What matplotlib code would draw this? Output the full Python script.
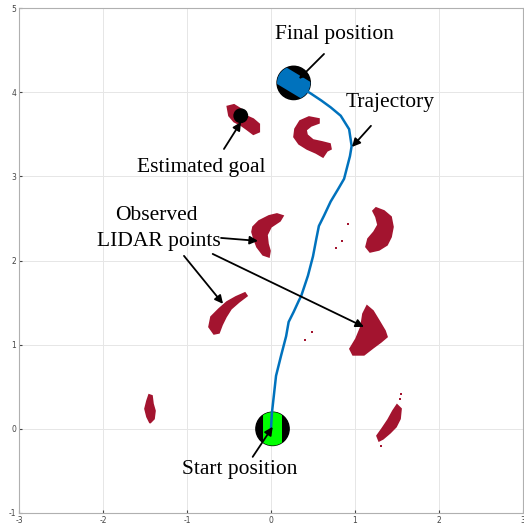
import matplotlib

matplotlib.use("Agg")
import matplotlib.pyplot as plt
import numpy as np
from matplotlib.patches import Circle, Polygon

plt.rcParams["axes.unicode_minus"] = False

# trajectory
traj_x = [0.0, 0.01, 0.06, 0.12, 0.18, 0.21, 0.27, 0.33, 0.36, 0.44, 0.50, 0.54,
          0.57, 0.63, 0.71, 0.80, 0.87, 0.94, 0.96, 0.93, 0.83, 0.71, 0.60, 0.48, 0.27]
traj_y = [0.0, 0.18, 0.63, 0.87, 1.10, 1.27, 1.39, 1.52, 1.58, 1.82, 2.05, 2.26,
          2.41, 2.53, 2.70, 2.85, 2.97, 3.24, 3.36, 3.56, 3.72, 3.82, 3.90, 3.98, 4.11]

# outlines of the observed LIDAR point clusters
cluster_goal = [(-0.52, 3.83), (-0.44, 3.85), (-0.36, 3.80), (-0.30, 3.72), (-0.21, 3.68),
                (-0.14, 3.62), (-0.14, 3.53), (-0.21, 3.50), (-0.29, 3.56), (-0.36, 3.61),
                (-0.44, 3.65), (-0.50, 3.72)]
cluster_c = [(0.571, 3.682), (0.452, 3.705), (0.345, 3.658), (0.286, 3.563), (0.274, 3.468),
             (0.333, 3.385), (0.429, 3.325), (0.536, 3.278), (0.619, 3.230), (0.667, 3.302),
             (0.714, 3.325), (0.702, 3.385), (0.607, 3.409), (0.500, 3.432), (0.429, 3.492),
             (0.417, 3.551), (0.476, 3.599), (0.571, 3.634)]
cluster_mid = [(-0.214, 2.399), (-0.143, 2.470), (-0.024, 2.530), (0.071, 2.553), (0.143, 2.530),
               (0.107, 2.470), (0.0, 2.399), (-0.048, 2.304), (-0.036, 2.197), (-0.012, 2.114),
               (-0.024, 2.043), (-0.095, 2.067), (-0.167, 2.162), (-0.202, 2.257), (-0.226, 2.340)]
cluster_left = [(-0.679, 1.128), (-0.738, 1.211), (-0.714, 1.330), (-0.619, 1.425), (-0.524, 1.508),
                (-0.417, 1.568), (-0.310, 1.615), (-0.286, 1.580), (-0.381, 1.508), (-0.476, 1.425),
                (-0.536, 1.330), (-0.583, 1.235), (-0.619, 1.140)]
cluster_right_up = [(1.250, 2.625), (1.345, 2.589), (1.429, 2.518), (1.452, 2.399), (1.429, 2.280),
                    (1.381, 2.185), (1.286, 2.126), (1.179, 2.102), (1.131, 2.162), (1.155, 2.257),
                    (1.226, 2.340), (1.274, 2.423), (1.250, 2.518), (1.214, 2.589)]
cluster_right_mid = [(1.143, 1.461), (1.214, 1.401), (1.286, 1.283), (1.357, 1.164), (1.381, 1.093),
                     (1.310, 1.033), (1.214, 0.962), (1.107, 0.879), (0.976, 0.879), (0.940, 0.950),
                     (1.012, 1.069), (1.071, 1.211), (1.095, 1.366)]
cluster_far_left = [(-1.452, 0.404), (-1.417, 0.392), (-1.405, 0.297), (-1.381, 0.214), (-1.393, 0.119),
                    (-1.440, 0.071), (-1.476, 0.143), (-1.500, 0.238), (-1.476, 0.333)]
cluster_low_right = [(1.500, 0.285), (1.548, 0.238), (1.536, 0.119), (1.488, 0.024), (1.417, -0.048),
                     (1.333, -0.119), (1.286, -0.143), (1.262, -0.083), (1.321, 0.0), (1.393, 0.107),
                     (1.452, 0.214)]
stray_x = [0.913, 0.845, 0.778, 0.488, 0.405, 1.548, 1.536, 1.310]
stray_y = [2.435, 2.236, 2.147, 1.156, 1.061, 0.416, 0.356, -0.200]

start_pos = (0.018, 0.0)
start_heading = 90
final_pos = (0.27, 4.11)
final_heading = -31
goal_pos = (-0.36, 3.72)

# (label, text position, arrow tail, arrow tip)
labels = [
    ("Final position", (0.76, 4.68), (0.631, 4.454), (0.333, 4.157)),
    ("Trajectory", (1.42, 3.88), (1.19, 3.60), (0.964, 3.349)),
    ("Estimated goal", (-0.83, 3.10), (-0.56, 3.325), (-0.357, 3.646)),
    ("Start position", (-0.37, -0.48), (-0.218, -0.333), (0.02, 0.024)),
]
lidar_lines = ["Observed", "LIDAR points"]
lidar_line_pos = [(-1.37, 2.53), (-1.33, 2.23)]
lidar_tails = [(-0.595, 2.268), (-1.036, 2.055), (-0.694, 2.078)]
lidar_tips = [(-0.155, 2.233), (-0.571, 1.485), (1.107, 1.211)]

point_color = "#a3142f"
traj_color = "#0072bd"
serif = ["Liberation Serif", "DejaVu Serif"]


def robot_marker(axis, center, heading, fill, radius=0.198, half_width=0.113):
    axis.add_patch(Circle(center, radius, color="black", zorder=4))
    # band of the disc along the heading direction
    half_angle = np.arcsin(half_width / radius)
    theta = np.radians(heading)
    arc = np.linspace(-half_angle, half_angle, 30)
    phi = np.concatenate([theta + arc, theta + np.pi + arc])
    band = np.column_stack([center[0] + radius * np.cos(phi), center[1] + radius * np.sin(phi)])
    axis.add_patch(Polygon(band, closed=True, facecolor=fill, edgecolor="none", zorder=5))


fig = plt.figure(figsize=(5.24, 5.27), dpi=100)
ax = fig.add_axes([19 / 524, 14 / 527, 504 / 524, 505 / 527])
ax.set_xlim(-3, 3)
ax.set_ylim(-1, 5)

for outline in [cluster_goal, cluster_c, cluster_mid, cluster_left, cluster_right_up,
                cluster_right_mid, cluster_far_left, cluster_low_right]:
    ax.add_patch(Polygon(outline, closed=True, facecolor=point_color, edgecolor=point_color,
                         linewidth=1.2, zorder=2))
ax.scatter(stray_x, stray_y, s=3, color=point_color, marker="s", linewidths=0, zorder=2)

robot_marker(ax, start_pos, start_heading, "#00ff00")
robot_marker(ax, final_pos, final_heading, traj_color)
ax.plot(traj_x, traj_y, color=traj_color, linewidth=1.8, zorder=6)
ax.add_patch(Circle(goal_pos, 0.08, color="black", zorder=4))

arrow = dict(arrowstyle="-|>", color="black", lw=1.3, mutation_scale=12, shrinkA=0, shrinkB=0)
for text, pos, tail, tip in labels:
    ax.text(pos[0], pos[1], text, fontsize=15.5, family=serif, ha="center", va="center", zorder=8)
    ax.annotate("", xy=tip, xytext=tail, arrowprops=arrow, zorder=7)
for text, pos in zip(lidar_lines, lidar_line_pos):
    ax.text(pos[0], pos[1], text, fontsize=15.5, family=serif, ha="center", va="center", zorder=8)
for tail, tip in zip(lidar_tails, lidar_tips):
    ax.annotate("", xy=tip, xytext=tail, arrowprops=arrow, zorder=7)

ax.set_xticks(range(-3, 4))
ax.set_yticks(range(-1, 6))
ax.grid(True, color="#e6e6e6", linewidth=0.7)
ax.set_axisbelow(True)
ax.tick_params(labelsize=5.5, colors="#444444", length=2, direction="in", pad=2)
for spine in ax.spines.values():
    spine.set_color("#b0b0b0")
    spine.set_linewidth(0.8)

fig.savefig("out.png", dpi=100)
